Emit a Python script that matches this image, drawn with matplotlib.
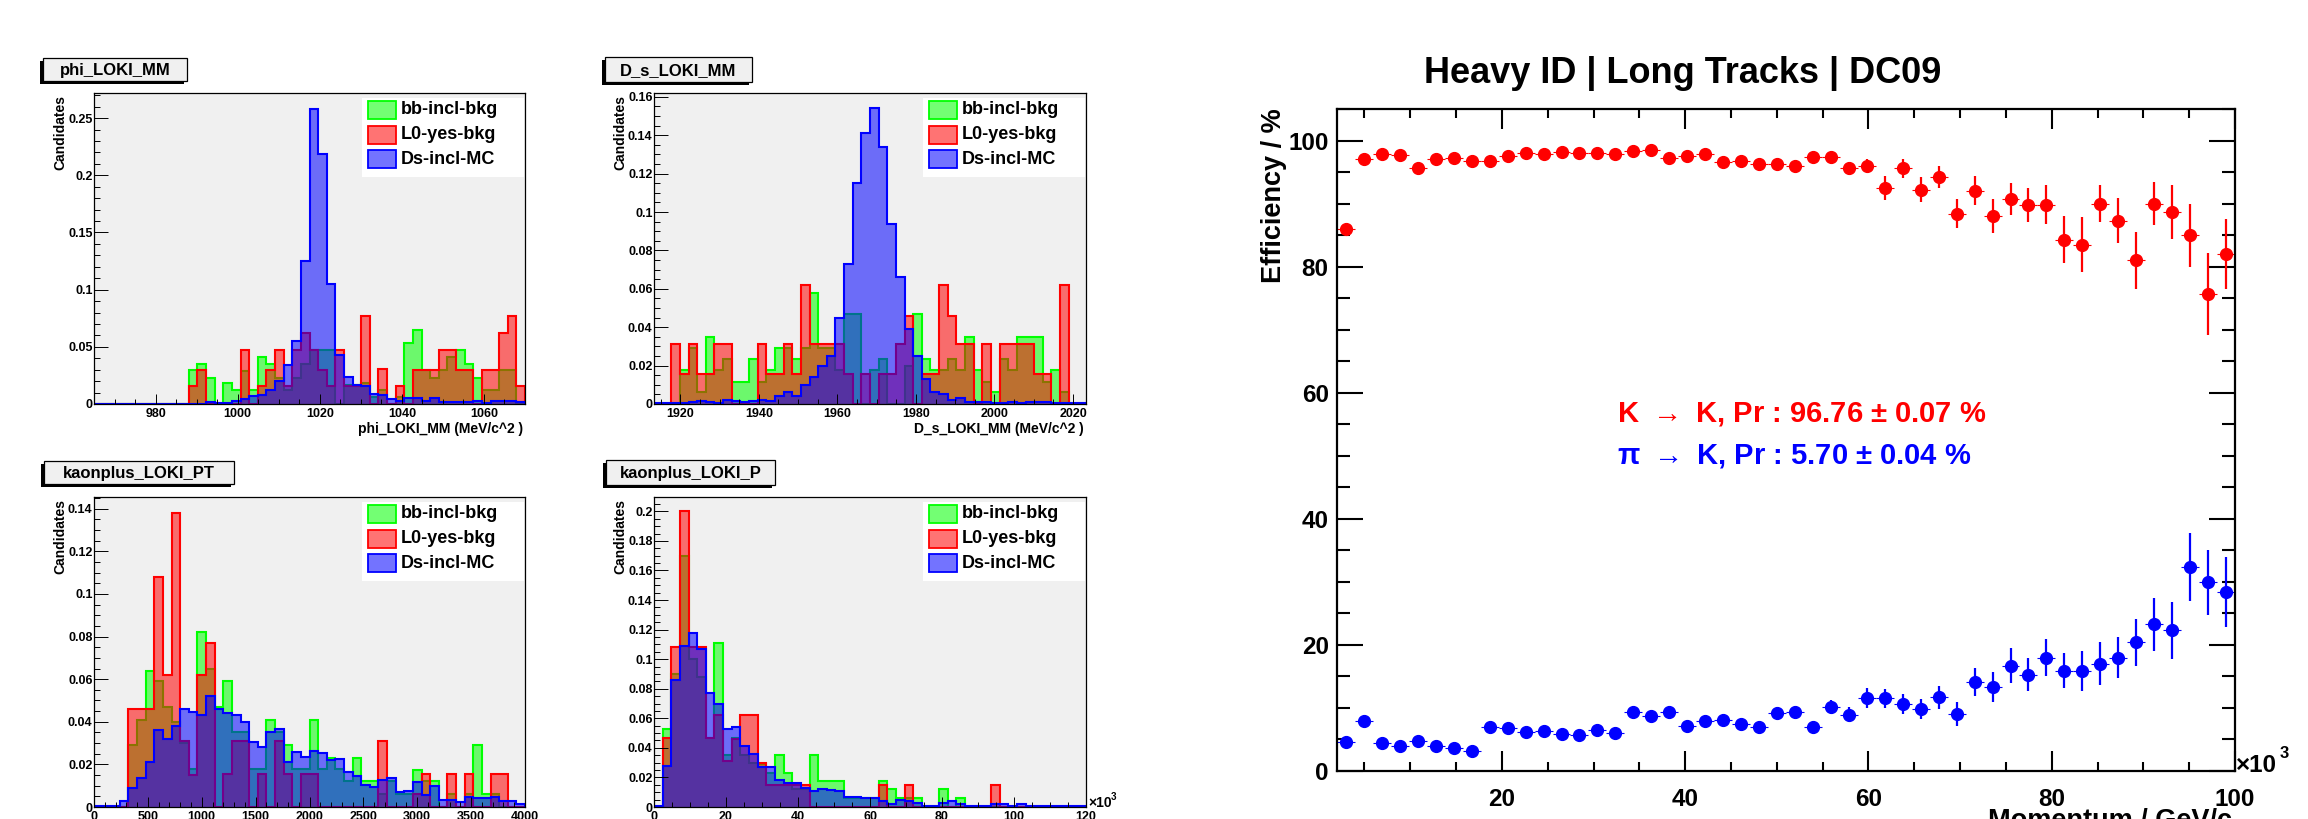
import numpy as np
import matplotlib
matplotlib.use("Agg")
import matplotlib.pyplot as plt
from matplotlib.patches import Rectangle
from matplotlib.ticker import MultipleLocator, FormatStrFormatter

plt.rcParams['font.family'] = ['Liberation Sans', 'DejaVu Sans']
plt.rcParams['font.weight'] = 'bold'
plt.rcParams['mathtext.default'] = 'regular'

W, H = 2308, 819

# ---------------- data ----------------
legend_names = ['bb-incl-bkg', 'L0-yes-bkg', 'Ds-incl-MC']
hist_colors = ['#00ff00', '#ff0000', '#0000ff']

# phi_LOKI_MM : 50 bins 965..1070
phi_range = (965, 1070, 50)
phi_bb = [0, 0, 0, 0, 0, 0, 0, 0, 0, 0,
          0, 0.030, 0.035, 0.023, 0, 0.018, 0.012, 0.029, 0.012, 0.041,
          0.035, 0.023, 0.012, 0.023, 0.035, 0.047, 0.047, 0.047, 0, 0.017,
          0.017, 0.018, 0.006, 0.012, 0, 0.006, 0.053, 0.065, 0.030, 0.023,
          0.030, 0.041, 0.047, 0.035, 0.023, 0.012, 0.012, 0.030, 0.030, 0]
phi_l0 = [0, 0, 0, 0, 0, 0, 0, 0, 0, 0,
          0, 0.016, 0.030, 0, 0, 0, 0, 0.047, 0, 0.016,
          0.030, 0.047, 0.016, 0.047, 0.062, 0.047, 0.030, 0.016, 0.047, 0.016,
          0.016, 0.077, 0, 0.031, 0, 0.016, 0, 0.030, 0.030, 0.030,
          0.047, 0.047, 0.030, 0.030, 0, 0.030, 0.030, 0.062, 0.077, 0.016]
phi_ds = [0, 0, 0, 0, 0, 0, 0, 0, 0, 0,
          0, 0, 0, 0.002, 0.001, 0.001, 0.003, 0.004, 0.007, 0.008,
          0.012, 0.020, 0.034, 0.055, 0.125, 0.258, 0.219, 0.105, 0.043, 0.024,
          0.017, 0.016, 0.009, 0.008, 0.004, 0.003, 0.005, 0.005, 0.003, 0.005,
          0.002, 0.002, 0.002, 0.002, 0.003, 0.001, 0.003, 0.003, 0.003, 0.002]

# D_s_LOKI_MM : 50 bins 1913.3..2023.3
ds_range = (1913.3, 2023.3, 50)
ds_bb = [0, 0, 0, 0.0175, 0.029, 0.006, 0.035, 0.0175, 0.0234, 0.0117,
         0.0117, 0.0234, 0.0117, 0.0175, 0.029, 0.029, 0.0234, 0.029, 0.058, 0.029,
         0.029, 0.0175, 0.047, 0.047, 0, 0.0175, 0.0234, 0, 0, 0.020,
         0.047, 0.0234, 0.0175, 0.0175, 0.0234, 0.0175, 0.035, 0.0175, 0.0117, 0.006,
         0.0234, 0.0175, 0.035, 0.035, 0.035, 0.0117, 0.0175, 0.006, 0, 0]
ds_l0 = [0, 0, 0.031, 0.0157, 0.031, 0.0157, 0.0157, 0.031, 0.031, 0,
         0, 0, 0.031, 0.0157, 0.0157, 0.031, 0.0157, 0.062, 0.031, 0.031,
         0.031, 0.031, 0.0157, 0, 0.0157, 0, 0.0157, 0.0157, 0.031, 0.046,
         0, 0.0157, 0.0157, 0.062, 0.046, 0.031, 0.031, 0, 0.031, 0,
         0.031, 0.031, 0.031, 0.031, 0.0157, 0.0157, 0, 0.062, 0, 0]
ds_ds = [0.0003, 0.0003, 0.0003, 0.0003, 0.001, 0.0015, 0.001, 0.0005, 0.002, 0.0015,
         0.001, 0.0015, 0.002, 0.0015, 0.004, 0.0065, 0.004, 0.010, 0.014, 0.020,
         0.025, 0.045, 0.073, 0.115, 0.141, 0.154, 0.134, 0.094, 0.066, 0.039,
         0.025, 0.013, 0.006, 0.005, 0.002, 0.003, 0.001, 0.0008, 0.001, 0.0005,
         0.0005, 0.001, 0.0005, 0.001, 0.001, 0.0008, 0.0005, 0.0005, 0.0005, 0.0003]

# kaonplus_LOKI_PT : 50 bins 0..4000
pt_range = (0, 4000, 50)
pt_bb = [0, 0, 0, 0, 0.029, 0.041, 0.064, 0.059, 0.047, 0.040,
         0.030, 0.018, 0.082, 0.065, 0.047, 0.059, 0.035, 0.035, 0.018, 0.018,
         0.041, 0.035, 0.029, 0.018, 0.018, 0.041, 0.018, 0.023, 0.018, 0.012,
         0.023, 0.012, 0.012, 0.006, 0.012, 0.006, 0.006, 0.0175, 0.012, 0.012,
         0, 0.006, 0, 0.006, 0.029, 0.006, 0.006, 0, 0, 0]
pt_l0 = [0, 0, 0, 0, 0.046, 0.046, 0.046, 0.108, 0.062, 0.138,
         0.031, 0.015, 0.062, 0.077, 0, 0.0155, 0.031, 0.031, 0, 0.0155,
         0, 0.031, 0.0155, 0, 0.0155, 0.0155, 0, 0, 0, 0,
         0, 0, 0, 0.031, 0, 0, 0, 0.006, 0.0155, 0,
         0, 0.0155, 0, 0.0155, 0, 0, 0.0155, 0.0155, 0, 0]
pt_ds = [0.0005, 0.0005, 0.0005, 0.003, 0.009, 0.0135, 0.021, 0.036, 0.032, 0.038,
         0.046, 0.0445, 0.043, 0.052, 0.046, 0.044, 0.043, 0.040, 0.0305, 0.028,
         0.035, 0.0365, 0.021, 0.026, 0.0235, 0.0265, 0.0255, 0.022, 0.0225, 0.0165,
         0.0145, 0.0105, 0.0095, 0.0125, 0.0135, 0.007, 0.0075, 0.0115, 0.0055, 0.010,
         0.0035, 0.0035, 0.0025, 0.0045, 0.004, 0.004, 0.0045, 0.003, 0.003, 0.0015]

# kaonplus_LOKI_P : 50 bins 0..120 (x10^3)
p_range = (0, 120, 50)
p_bb = [0, 0.053, 0.090, 0.170, 0.100, 0.088, 0.047, 0.111, 0.035, 0.047,
        0.035, 0.030, 0.029, 0.023, 0.035, 0.023, 0.012, 0.012, 0.035, 0.0175,
        0.0175, 0.0175, 0.006, 0.006, 0.006, 0.006, 0.0175, 0.012, 0.006, 0.006,
        0.006, 0, 0, 0.012, 0, 0.006, 0, 0, 0, 0,
        0, 0, 0, 0, 0, 0, 0, 0, 0, 0]
p_l0 = [0, 0.047, 0.108, 0.200, 0.108, 0.108, 0.047, 0.062, 0.031, 0.046,
        0.062, 0.062, 0.030, 0.015, 0.015, 0.015, 0.015, 0.015, 0, 0,
        0, 0, 0, 0, 0, 0, 0.015, 0, 0, 0.015,
        0, 0, 0, 0, 0, 0, 0, 0, 0, 0.015,
        0, 0, 0, 0, 0, 0, 0, 0, 0, 0]
p_ds = [0.0005, 0.028, 0.086, 0.109, 0.118, 0.107, 0.077, 0.070, 0.053, 0.054,
        0.041, 0.036, 0.027, 0.027, 0.018, 0.016, 0.016, 0.013, 0.011, 0.012,
        0.0115, 0.011, 0.007, 0.007, 0.006, 0.006, 0.004, 0.002, 0.005, 0.004,
        0.003, 0.001, 0.001, 0.003, 0.004, 0.002, 0.001, 0.001, 0.001, 0.002,
        0.002, 0.0005, 0.002, 0.0005, 0.0005, 0.0005, 0.0005, 0.0005, 0.0005, 0.0005]

# efficiency vs momentum (GeV/c, x10^3 MeV)
p_centres = [2.98, 4.94, 6.90, 8.86, 10.82, 12.78, 14.74, 16.70, 18.66, 20.62,
             22.58, 24.54, 26.50, 28.46, 30.42, 32.38, 34.34, 36.30, 38.26, 40.22,
             42.18, 44.14, 46.10, 48.06, 50.02, 51.98, 53.94, 55.90, 57.86, 59.82,
             61.78, 63.74, 65.70, 67.66, 69.62, 71.58, 73.54, 75.50, 77.46, 79.42,
             81.38, 83.34, 85.30, 87.26, 89.22, 91.18, 93.14, 95.10, 97.06, 99.02]
p_bin_halfwidth = 0.98
eff_k = [86.0, 97.1, 97.8, 97.7, 95.6, 97.0, 97.3, 96.7, 96.7, 97.6,
         98.0, 97.8, 98.2, 98.0, 98.1, 97.8, 98.3, 98.5, 97.2, 97.6,
         97.8, 96.6, 96.7, 96.2, 96.3, 95.9, 97.4, 97.4, 95.6, 96.0,
         92.4, 95.6, 92.2, 94.2, 88.4, 92.0, 88.0, 90.7, 89.7, 89.8,
         84.3, 83.5, 90.0, 87.3, 81.0, 90.0, 88.7, 85.0, 75.7, 82.0]
err_k = [0.5, 0.4, 0.3, 0.3, 0.4, 0.4, 0.4, 0.4, 0.4, 0.4,
         0.4, 0.4, 0.4, 0.4, 0.4, 0.4, 0.4, 0.4, 0.5, 0.5,
         0.5, 0.6, 0.6, 0.6, 0.7, 0.7, 0.7, 0.7, 1.0, 1.0,
         1.9, 1.5, 2.0, 1.8, 2.3, 2.3, 2.7, 2.5, 2.7, 3.1,
         3.8, 4.3, 3.0, 3.6, 4.5, 3.4, 4.3, 5.0, 6.5, 5.5]
eff_pi = [4.55, 8.0, 4.5, 3.9, 4.7, 3.9, 3.6, 3.1, 6.9, 6.8,
          6.2, 6.3, 5.9, 5.7, 6.5, 6.1, 9.3, 8.7, 9.4, 7.2,
          7.9, 8.1, 7.4, 7.0, 9.2, 9.4, 7.0, 10.1, 8.9, 11.6,
          11.5, 10.6, 9.8, 11.7, 9.0, 14.1, 13.3, 16.7, 15.3, 18.0,
          15.9, 15.9, 17.0, 18.0, 20.4, 23.3, 22.3, 32.4, 29.9, 28.4]
err_pi = [0.5, 0.6, 0.5, 0.5, 0.5, 0.5, 0.5, 0.5, 0.6, 0.6,
          0.6, 0.6, 0.6, 0.6, 0.7, 0.7, 0.8, 0.8, 0.8, 0.8,
          0.8, 0.8, 0.8, 0.8, 0.9, 0.9, 0.9, 1.1, 1.2, 1.6,
          1.5, 1.6, 1.6, 1.8, 1.9, 2.2, 2.4, 2.75, 2.6, 3.0,
          2.8, 3.2, 3.4, 3.2, 3.7, 4.2, 4.5, 5.4, 5.1, 5.5]

# ---------------- figure ----------------
fig = plt.figure(figsize=(W / 100, H / 100), dpi=100, facecolor='white')


def px_axes(x0, y0, x1, y1):
    return fig.add_axes([x0 / W, 1 - y1 / H, (x1 - x0) / W, (y1 - y0) / H])


# (axes box in px, title, binning, series, ylim, y major/minor, x major/minor, xlabel)
panels = [
    ((94, 93, 525, 404), 'phi_LOKI_MM', phi_range, (phi_bb, phi_l0, phi_ds),
     0.272, 0.05, 0.01, 20, 5, 'phi_LOKI_MM (MeV/c^2 )', (43, 58, 187, 81)),
    ((654, 93, 1086, 404), 'D_s_LOKI_MM', ds_range, (ds_bb, ds_l0, ds_ds),
     0.162, 0.02, 0.005, 20, 5, 'D_s_LOKI_MM (MeV/c^2 )', (605, 57, 752, 82)),
    ((94, 497, 525, 807), 'kaonplus_LOKI_PT', pt_range, (pt_bb, pt_l0, pt_ds),
     0.1455, 0.02, 0.005, 500, 100, None, (44, 461, 234, 484)),
    ((654, 497, 1086, 807), 'kaonplus_LOKI_P', p_range, (p_bb, p_l0, p_ds),
     0.2097, 0.02, 0.005, 20, 5, None, (606, 460, 775, 485)),
]

hist_axes = []
for box, title, rng, series, ytop, ymaj, ymin, xmaj, xmin, xlabel, tbox in panels:
    ax = px_axes(*box)
    ax.set_facecolor('#f0f0f0')
    edges = np.linspace(rng[0], rng[1], rng[2] + 1)
    for vals, col in zip(series, hist_colors):
        ax.stairs(vals, edges, fill=True, color=col, alpha=0.55, lw=0)
        ax.stairs(vals, edges, color=col, lw=1.5, baseline=0)
    ax.set_xlim(rng[0], rng[1])
    ax.set_ylim(0, ytop)
    ax.yaxis.set_major_locator(MultipleLocator(ymaj))
    ax.yaxis.set_minor_locator(MultipleLocator(ymin))
    ax.yaxis.set_major_formatter(FormatStrFormatter('%g'))
    ax.xaxis.set_major_locator(MultipleLocator(xmaj))
    ax.xaxis.set_minor_locator(MultipleLocator(xmin))
    ax.xaxis.set_major_formatter(FormatStrFormatter('%g'))
    for s in ax.spines.values():
        s.set_linewidth(0.9)
    ax.tick_params(which='both', direction='in', top=False, right=False,
                   width=0.7, labelsize=9)
    ax.tick_params(axis='y', which='major', length=9.8, pad=1)
    ax.tick_params(axis='y', which='minor', length=4.6)
    ax.tick_params(axis='x', which='major', length=7.2, pad=3)
    ax.tick_params(axis='x', which='minor', length=3.6)
    hist_axes.append((box, title, xlabel, tbox))

# ---------------- efficiency panel ----------------
ax = px_axes(1337, 109, 2235, 771)
ax.errorbar(p_centres, eff_k, xerr=p_bin_halfwidth, fmt='none', ecolor='red', elinewidth=0.8)
ax.errorbar(p_centres, eff_k, yerr=err_k, fmt='o', color='red', ms=8.5,
            elinewidth=1.6, capsize=0)
ax.errorbar(p_centres, eff_pi, xerr=p_bin_halfwidth, fmt='none', ecolor='blue', elinewidth=0.8)
ax.errorbar(p_centres, eff_pi, yerr=err_pi, fmt='o', color='blue', ms=8.5,
            elinewidth=1.6, capsize=0)
ax.set_xlim(2, 100)
ax.set_ylim(0, 105)
ax.xaxis.set_major_locator(MultipleLocator(20))
ax.xaxis.set_minor_locator(MultipleLocator(5))
ax.yaxis.set_major_locator(MultipleLocator(20))
ax.yaxis.set_minor_locator(MultipleLocator(5))
for s in ax.spines.values():
    s.set_linewidth(1.6)
ax.tick_params(which='both', direction='in', top=True, right=True, width=1.5,
               labelsize=17.5)
ax.tick_params(axis='y', which='major', length=18.7, pad=6)
ax.tick_params(axis='y', which='minor', length=9.4)
ax.tick_params(axis='x', which='major', length=14.4, pad=12)
ax.tick_params(axis='x', which='minor', length=6.5)

# ---------------- overlay for titles, legends and labels ----------------
ov = fig.add_axes([0, 0, 1, 1])
ov.set_xlim(0, W)
ov.set_ylim(H, 0)
ov.axis('off')

for box, title, xlabel, tbox in hist_axes:
    x0, y0, x1, y1 = box
    # title box with shadow
    bx0, by0, bx1, by1 = tbox
    ov.add_patch(Rectangle((bx0 - 3, by0 + 3), bx1 - bx0, by1 - by0, facecolor='black',
                           edgecolor='none'))
    ov.add_patch(Rectangle((bx0, by0), bx1 - bx0, by1 - by0, facecolor='#f0f0f0',
                           edgecolor='black', lw=0.9))
    ov.text((bx0 + bx1) / 2, (by0 + by1) / 2 + 1, title, ha='center', va='center',
            fontsize=12, fontweight='bold')
    # legend
    ov.add_patch(Rectangle((x1 - 163, y0 + 5), 162, 79, facecolor='white',
                           edgecolor='none', zorder=2))
    for k, (name, col) in enumerate(zip(legend_names, hist_colors)):
        cy = y0 + 17 + 24.5 * k
        ov.add_patch(Rectangle((x1 - 157, cy - 9), 28, 18, facecolor=col, alpha=0.55,
                               edgecolor='none', zorder=3))
        ov.add_patch(Rectangle((x1 - 157, cy - 9), 28, 18, facecolor='none',
                               edgecolor=col, lw=1.3, zorder=3))
        ov.text(x1 - 124, cy, name, ha='left', va='center', fontsize=13,
                fontweight='bold', zorder=4)
    ov.text(x0 - 34, y0 + 2, 'Candidates', rotation=90, ha='center', va='top',
            fontsize=10, fontweight='bold')
    if xlabel:
        ov.text(x1 - 2, y1 + 25, xlabel, ha='right', va='center', fontsize=10,
                fontweight='bold')

# x10^3 for kaonplus_LOKI_P
ov.text(1088, 807, '\u00d710', ha='left', va='baseline', fontsize=10, fontweight='bold')
ov.text(1111, 800, '3', ha='left', va='baseline', fontsize=7, fontweight='bold')

# efficiency panel texts
ov.text(1683, 83, 'Heavy ID | Long Tracks | DC09', ha='center', va='baseline',
        fontsize=26, fontweight='bold')
ov.text(1274, 108, 'Efficiency / %', rotation=90, ha='center', va='top',
        fontsize=19.5, fontweight='bold')
ov.text(2232, 808, 'Momentum / GeV/c', ha='right', va='top', fontsize=19.5,
        fontweight='bold')
ov.text(2236, 772, '\u00d710', ha='left', va='baseline', fontsize=17.5, fontweight='bold')
ov.text(2280, 758, '3', ha='left', va='baseline', fontsize=12, fontweight='bold')
ov.text(1617, 422, r'K $\rightarrow$ K, Pr : 96.76 $\pm$ 0.07 %', ha='left',
        va='baseline', fontsize=21, fontweight='bold', color='red')
ov.text(1617, 463, r'$\pi$ $\rightarrow$ K, Pr : 5.70 $\pm$ 0.04 %', ha='left',
        va='baseline', fontsize=21, fontweight='bold', color='blue')

fig.savefig('out.png', dpi=100, facecolor='white')
